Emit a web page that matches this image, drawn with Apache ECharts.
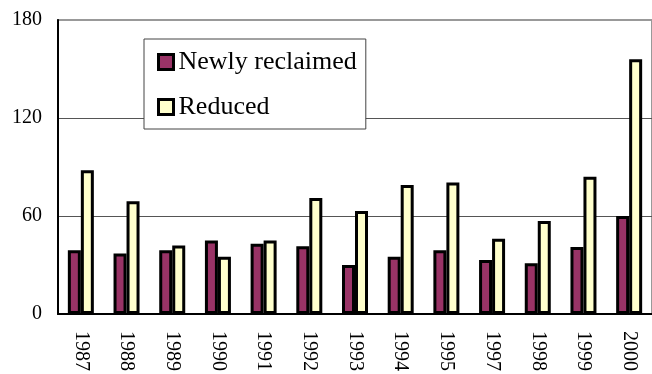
<!DOCTYPE html>
<html>
<head>
<meta charset="utf-8">
<script src="https://cdn.jsdelivr.net/npm/echarts@6/dist/echarts.min.js"></script>
<style>
  html, body { margin: 0; padding: 0; background: #fff; }
  #chart { width: 652px; height: 374px; }
</style>
</head>
<body>
<div id="chart"></div>
<script>
// Annual farmland change, newly reclaimed vs. reduced
const years = ['1987', '1988', '1989', '1990', '1991', '1992', '1993', '1994', '1995', '1997', '1998', '1999', '2000'];
const newlyReclaimed = [39, 37, 39, 45, 43, 41.5, 30, 35, 39, 33, 31, 41, 60];
const reduced = [88, 69, 42, 35, 45, 71, 63, 79, 80.5, 46, 57, 84, 156];
const yTicks = { min: 0, max: 180, interval: 60 };

const serif = 'Liberation Serif';
const chart = echarts.init(document.getElementById('chart'));

chart.setOption({
  animation: false,
  backgroundColor: '#fff',
  textStyle: { fontFamily: serif, color: '#000' },
  grid: {
    left: 58, top: 20, right: -9, bottom: 57,
    show: true, borderColor: '#999', borderWidth: 2, backgroundColor: 'transparent'
  },
  legend: {
    orient: 'vertical',
    left: 144, top: 39,
    padding: [10, 9, 9, 13],
    itemWidth: 15, itemHeight: 15,
    itemGap: 19,
    icon: 'rect',
    itemTextGap: 7,
    backgroundColor: '#fff',
    borderColor: '#444', borderWidth: 1,
    textStyle: { fontFamily: serif, fontSize: 26, color: '#000', lineHeight: 25 },
    itemStyle: { borderColor: '#000', borderWidth: 3 }
  },
  xAxis: {
    type: 'category',
    data: years,
    axisLine: { lineStyle: { color: '#000', width: 2 } },
    axisTick: { inside: true, length: 6, lineStyle: { color: '#000', width: 1 } },
    axisLabel: { rotate: -90, margin: 17, fontFamily: serif, fontSize: 20, color: '#000' }
  },
  yAxis: {
    type: 'value',
    min: yTicks.min, max: yTicks.max, interval: yTicks.interval,
    axisLine: { show: true, lineStyle: { color: '#000', width: 2 } },
    axisTick: { show: false },
    axisLabel: { margin: 16, fontFamily: serif, fontSize: 20, color: '#000' },
    splitLine: { lineStyle: { color: ['#555', '#555', '#555', '#999'], width: 1 } }
  },
  series: [
    {
      name: 'Newly reclaimed',
      type: 'bar',
      data: newlyReclaimed,
      barWidth: 13,
      barGap: '0%',
      itemStyle: { color: '#993366', borderColor: '#000', borderWidth: 3 }
    },
    {
      name: 'Reduced',
      type: 'bar',
      data: reduced,
      barWidth: 13,
      itemStyle: { color: '#FFFFCC', borderColor: '#000', borderWidth: 3 }
    }
  ]
});
</script>
</body>
</html>
